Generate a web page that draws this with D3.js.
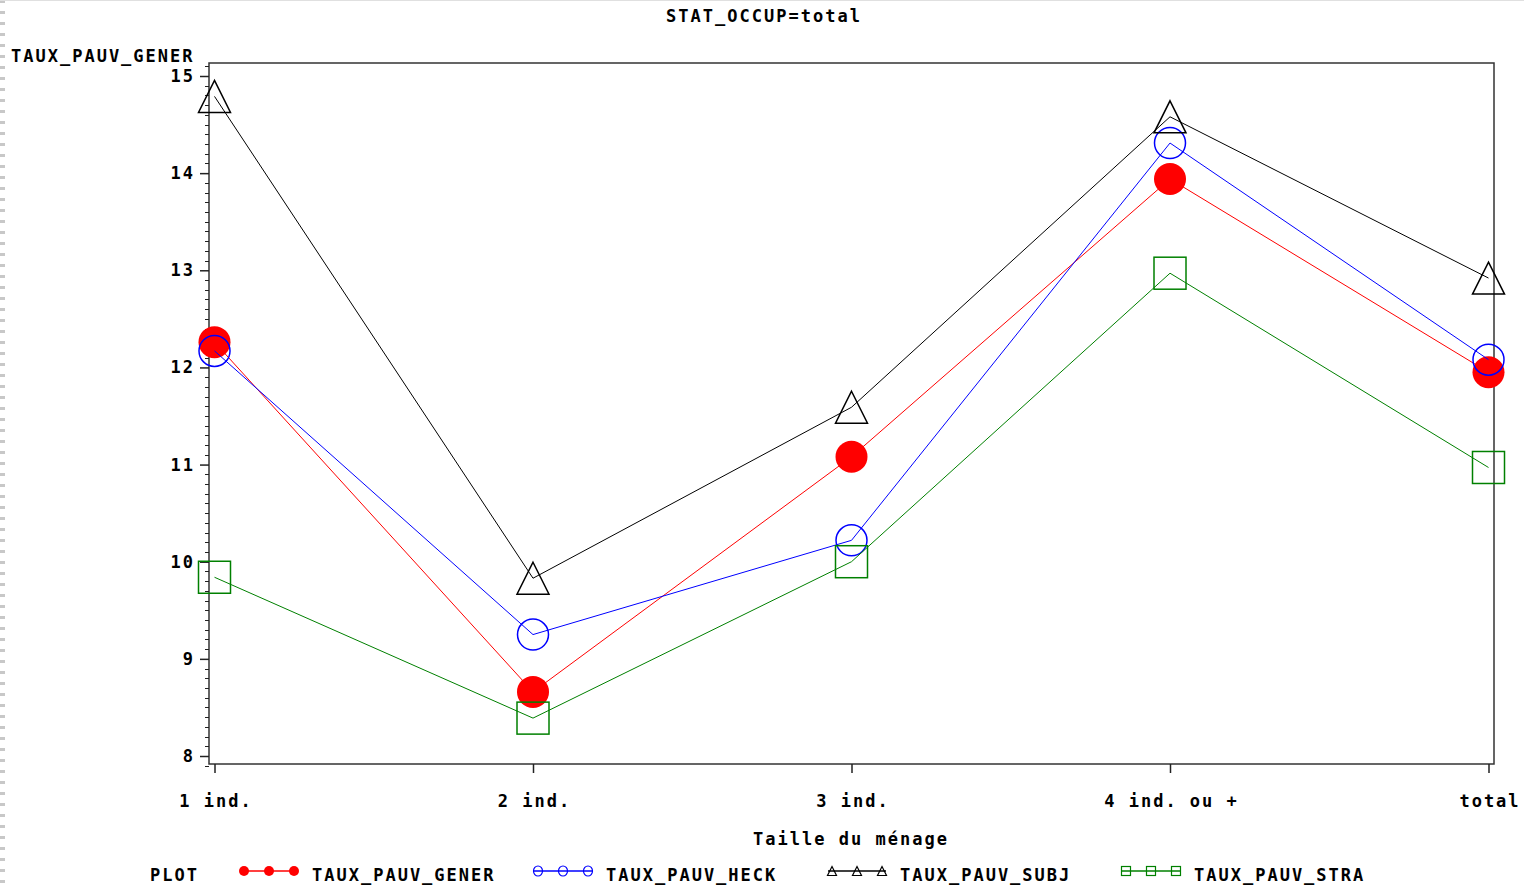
<!DOCTYPE html>
<html>
<head>
<meta charset="utf-8">
<script src="https://cdn.jsdelivr.net/npm/d3@7"></script>
<style>
html,body{margin:0;padding:0;background:#fff;}
svg text{font-family:"DejaVu Sans Mono",monospace;font-weight:bold;font-size:17px;letter-spacing:2px;fill:#000;}
</style>
</head>
<body>
<svg id="chart" width="1524" height="887"></svg>
<script>
const categories = ["1 ind.", "2 ind.", "3 ind.", "4 ind. ou +", "total"];
const tauxPauvGener = [12.26, 8.66, 11.08, 13.94, 11.95];
const tauxPauvHeck  = [12.17, 9.25, 10.22, 14.31, 12.08];
const tauxPauvSubj  = [14.79, 9.83, 11.59, 14.58, 12.92];
const tauxPauvStra  = [9.84, 8.39, 10.00, 12.97, 10.97];
const yTicks = [8, 9, 10, 11, 12, 13, 14, 15];
const title = "STAT_OCCUP=total";
const yTitle = "TAUX_PAUV_GENER";
const xTitle = "Taille du ménage";

const series = [
  {name: "TAUX_PAUV_GENER", values: tauxPauvGener, color: "#ff0000", shape: "dot"},
  {name: "TAUX_PAUV_HECK",  values: tauxPauvHeck,  color: "#0000ff", shape: "circle"},
  {name: "TAUX_PAUV_SUBJ",  values: tauxPauvSubj,  color: "#000000", shape: "triangle"},
  {name: "TAUX_PAUV_STRA",  values: tauxPauvStra,  color: "#008000", shape: "square"}
];

const svg = d3.select("#chart");
const frame = {left: 209, right: 1494, top: 63, bottom: 764};

const x = d3.scalePoint().domain(categories).range([214.5, 1488.5]);
const y = d3.scaleLinear().domain([8, 15]).range([756, 76]);

// scan edge artefacts
svg.append("line").attr("x1", 2.5).attr("x2", 2.5).attr("y1", 0).attr("y2", 887)
  .attr("stroke", "#c8c8c8").attr("stroke-width", 5).attr("stroke-dasharray", "3 8");
svg.append("line").attr("x1", 0).attr("x2", 1524).attr("y1", 0.5).attr("y2", 0.5)
  .attr("stroke", "#e0e0e0").attr("stroke-width", 1);

// frame
svg.append("rect").attr("x", frame.left).attr("y", frame.top)
  .attr("width", frame.right - frame.left).attr("height", frame.bottom - frame.top)
  .attr("fill", "none").attr("stroke", "#333").attr("stroke-width", 1.5);

// y axis
const yAxis = d3.axisLeft(y).tickValues(yTicks).tickSize(9).tickPadding(6).tickFormat(d3.format("d"));
const gy = svg.append("g").attr("transform", `translate(${frame.left},0)`).call(yAxis);
gy.select(".domain").remove();
gy.selectAll(".tick line").attr("stroke", "#222").attr("stroke-width", 1.5);
gy.selectAll(".tick text").style("font-size", "17px").style("font-family", "DejaVu Sans Mono").attr("dx", "1px");

// minor ticks
const minor = d3.range(79, 152).map(d => d / 10).filter(d => Math.abs(d - Math.round(d)) > 1e-6);
svg.append("g").selectAll("line").data(minor).join("line")
  .attr("x1", frame.left - 4).attr("x2", frame.left)
  .attr("y1", d => Math.round(y(d)) + 0.5).attr("y2", d => Math.round(y(d)) + 0.5)
  .attr("stroke", "#222").attr("stroke-width", 1);

// x axis
const xAxis = d3.axisBottom(x).tickSize(9).tickPadding(22);
const gx = svg.append("g").attr("transform", `translate(0,${frame.bottom})`).call(xAxis);
gx.select(".domain").remove();
gx.selectAll(".tick line").attr("stroke", "#222").attr("stroke-width", 1.5);
gx.selectAll(".tick text").style("font-size", "17px").style("font-family", "DejaVu Sans Mono").attr("dx", "1px");

// titles
svg.append("text").attr("x", 764).attr("y", 22).attr("text-anchor", "middle").text(title);
svg.append("text").attr("x", 11).attr("y", 62).text(yTitle);
svg.append("text").attr("x", 851).attr("y", 845).attr("text-anchor", "middle").text(xTitle);

// symbols
function drawSymbol(g, shape, color, cx, cy, r, sw) {
  if (shape === "dot") {
    g.append("circle").attr("cx", cx).attr("cy", cy).attr("r", r).attr("fill", color);
  } else if (shape === "circle") {
    g.append("circle").attr("cx", cx).attr("cy", cy).attr("r", r - 0.5)
      .attr("fill", "none").attr("stroke", color).attr("stroke-width", sw);
  } else if (shape === "triangle") {
    g.append("path").attr("d", `M${cx},${cy - r}L${cx + r},${cy + r}L${cx - r},${cy + r}Z`)
      .attr("fill", "none").attr("stroke", color).attr("stroke-width", sw);
  } else if (shape === "square") {
    g.append("rect").attr("x", cx - r).attr("y", cy - r).attr("width", 2 * r).attr("height", 2 * r)
      .attr("fill", "none").attr("stroke", color).attr("stroke-width", sw);
  }
}

const line = d3.line().x((d, i) => x(categories[i])).y(d => y(d));
const plot = svg.append("g");
series.forEach(s => {
  const g = plot.append("g");
  s.values.forEach((v, i) => drawSymbol(g, s.shape, s.color, x(categories[i]), y(v), 16, 1.5));
  g.append("path").datum(s.values).attr("d", line)
    .attr("fill", "none").attr("stroke", s.color).attr("stroke-width", 1);
});

// legend
const legY = 874;
svg.append("text").attr("x", 150).attr("y", legY + 7).text("PLOT");
const legX = [240, 534, 828, 1122];
series.forEach((s, i) => {
  const g = svg.append("g");
  const x0 = legX[i];
  g.append("line").attr("x1", x0).attr("x2", x0 + 58).attr("y1", legY - 3).attr("y2", legY - 3)
    .attr("stroke", s.color).attr("stroke-width", 1.5);
  [x0 + 4, x0 + 29, x0 + 54].forEach(mx => {
    if (s.shape === "dot") drawSymbol(g, "dot", s.color, mx, legY - 3, 5, 1);
    else if (s.shape === "circle") g.append("ellipse").attr("cx", mx).attr("cy", legY - 3).attr("rx", 4.5).attr("ry", 5)
      .attr("fill", "none").attr("stroke", s.color).attr("stroke-width", 1.2);
    else drawSymbol(g, s.shape, s.color, mx, legY - 3, 4.5, 1.2);
  });
  g.append("text").attr("x", x0 + 72).attr("y", legY + 7).text(s.name);
});
</script>
</body>
</html>
